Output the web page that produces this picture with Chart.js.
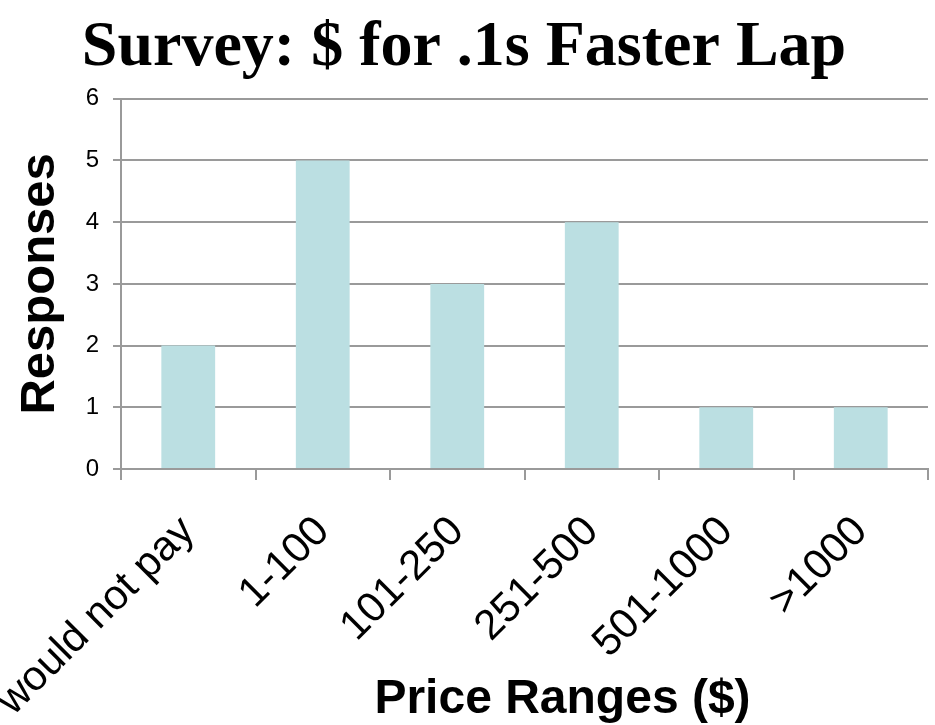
<!DOCTYPE html>
<html>
<head>
<meta charset="utf-8">
<script src="https://cdn.jsdelivr.net/npm/chart.js@4/dist/chart.umd.min.js"></script>
<style>
  html, body { margin: 0; padding: 0; background: #fff; }
  #wrap { width: 935px; height: 725px; position: relative; }
</style>
</head>
<body>
<div id="wrap"><canvas id="lapChart"></canvas></div>
<script>
const priceRanges = ['would not pay', '1-100', '101-250', '251-500', '501-1000', '>1000'];
const responses = [2, 5, 3, 4, 1, 1];
const yMin = 0;
const yMax = 6;
const yStep = 1;
const chartTitle = 'Survey: $ for .1s Faster Lap';
const xTitle = 'Price Ranges ($)';
const yTitle = 'Responses';

const sans = '"Liberation Sans", Arial, Helvetica, sans-serif';
const serif = '"Liberation Serif", "Times New Roman", serif';
const gridGray = '#9a9a9a';

// x axis title overlaps the rotated label band, so it is drawn by hand
const xTitlePlugin = {
    id: 'xTitle',
    afterDraw(chart) {
        const { ctx, chartArea } = chart;
        ctx.save();
        ctx.font = 'bold 48px ' + sans;
        ctx.fillStyle = '#000';
        ctx.textAlign = 'center';
        ctx.textBaseline = 'alphabetic';
        ctx.fillText(xTitle, (chartArea.left + chartArea.right) / 2 + 38, chart.height - 12);
        ctx.restore();
    }
};

const ctx = document.getElementById('lapChart').getContext('2d');

new Chart(ctx, {
    type: 'bar',
    data: {
        labels: priceRanges,
        datasets: [{
            label: yTitle,
            data: responses,
            backgroundColor: '#bbdfe2',
            borderWidth: 0,
            barPercentage: 0.4,
            categoryPercentage: 1.0
        }]
    },
    options: {
        responsive: true,
        maintainAspectRatio: false,
        animation: false,
        layout: {
            padding: { left: 0, right: 7, top: 0, bottom: 0 }
        },
        plugins: {
            legend: { display: false },
            tooltip: { enabled: false },
            title: {
                display: true,
                text: chartTitle,
                color: '#000',
                font: { family: serif, size: 64, weight: 'bold' },
                padding: { top: 10, bottom: 12 }
            }
        },
        scales: {
            x: {
                grid: {
                    display: true,
                    drawOnChartArea: false,
                    drawTicks: true,
                    tickLength: 11,
                    color: gridGray,
                    lineWidth: 2,
                    offset: true
                },
                border: { display: true, color: gridGray, width: 2 },
                ticks: {
                    color: '#000',
                    font: { family: sans, size: 42 },
                    minRotation: 45,
                    maxRotation: 45,
                    autoSkip: false,
                    padding: 27
                },
                afterFit(scale) {
                    // labels may run past the left edge, keep the plot where it is
                    scale.height = 256;
                    scale.paddingLeft = 0;
                    scale.paddingRight = 0;
                }
            },
            y: {
                min: yMin,
                max: yMax,
                ticks: {
                    stepSize: yStep,
                    color: '#000',
                    font: { family: sans, size: 24 },
                    padding: 14
                },
                grid: {
                    color: gridGray,
                    lineWidth: 2,
                    tickLength: 8
                },
                border: { display: true, color: gridGray, width: 2 },
                title: {
                    display: true,
                    text: yTitle,
                    color: '#000',
                    font: { family: sans, size: 49, weight: 'bold' },
                    padding: { top: 11, bottom: 0 }
                },
                afterFit(scale) {
                    scale.width = 121;
                }
            }
        }
    },
    plugins: [xTitlePlugin]
});
</script>
</body>
</html>
